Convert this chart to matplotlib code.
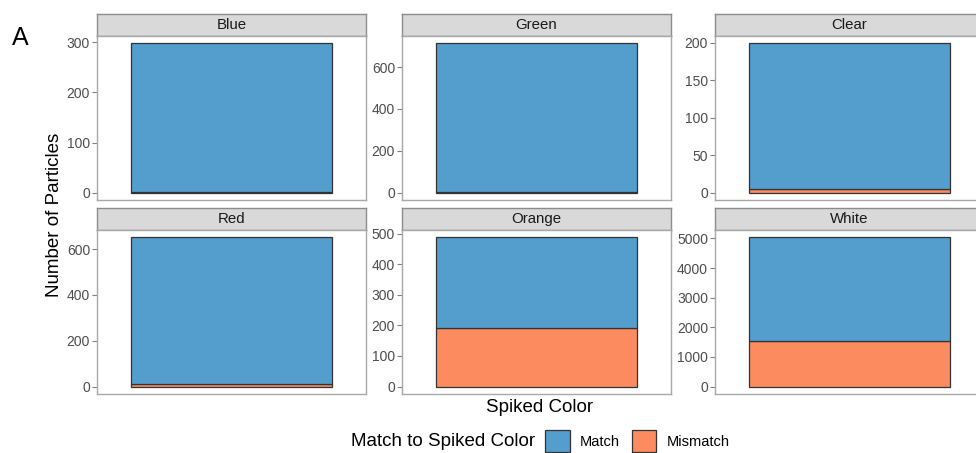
import matplotlib
matplotlib.use("Agg")
import matplotlib.pyplot as plt
from matplotlib.patches import Patch

plt.rcParams['font.family'] = ['Liberation Sans', 'DejaVu Sans']

# Particle counts per spiked colour, split by whether the detected colour matched
spiked_colors = ["Blue", "Green", "Clear", "Red", "Orange", "White"]
mismatch_counts = [1, 4, 5, 13, 193, 1545]
match_counts = [297, 709, 194, 638, 295, 3490]
y_breaks = [
    [0, 100, 200, 300],
    [0, 200, 400, 600],
    [0, 50, 100, 150, 200],
    [0, 200, 400, 600],
    [0, 100, 200, 300, 400, 500],
    [0, 1000, 2000, 3000, 4000, 5000],
]
legend_labels = ["Match", "Mismatch"]

MATCH_COLOR = "#549ECE"
MISMATCH_COLOR = "#FC8C5F"
EDGE = "#333333"
TICK_GREY = "#4D4D4D"
BORDER_GREY = "#A8A8A8"

W, H = 976, 453
fig = plt.figure(figsize=(W / 100, H / 100), dpi=100)


def px_axes(left, top, width, height):
    return fig.add_axes([left / W, 1 - (top + height) / H, width / W, height / H])


col_left = [97, 402, 715]
strip_top = [14, 208]
strip_h = 22
panel_h = 164
panel_w = 269

for i, name in enumerate(spiked_colors):
    r, c = divmod(i, 3)
    left = col_left[c]
    top = strip_top[r]

    # facet strip
    sax = px_axes(left, top, panel_w, strip_h)
    sax.set_facecolor("#D9D9D9")
    sax.set_xticks([])
    sax.set_yticks([])
    for sp in sax.spines.values():
        sp.set_color("#8C8C8C")
        sp.set_linewidth(1.0)
    sax.text(0.5, 0.5, name, ha="center", va="center", fontsize=10.8,
             color="#1A1A1A", transform=sax.transAxes)

    # panel
    ax = px_axes(left, top + strip_h, panel_w, panel_h)
    mm = mismatch_counts[i]
    ma = match_counts[i]
    ax.bar(0, mm, width=0.9, color=MISMATCH_COLOR, edgecolor=EDGE, linewidth=0.9)
    ax.bar(0, ma, bottom=mm, width=0.9, color=MATCH_COLOR, edgecolor=EDGE, linewidth=0.9)
    total = mm + ma
    ax.set_xlim(-0.6, 0.6)
    ax.set_ylim(-0.05 * total, 1.05 * total)
    ax.set_xticks([])
    ax.set_yticks(y_breaks[i])
    ax.set_yticklabels([str(v) for v in y_breaks[i]])
    ax.tick_params(axis="y", length=3.5, width=0.8, color="#808080",
                   labelcolor=TICK_GREY, labelsize=10, pad=1.5)
    for sp in ax.spines.values():
        sp.set_color(BORDER_GREY)
        sp.set_linewidth(1.0)

# axis titles
fig.text(55 / W, 1 - 215 / H, "Number of Particles", rotation=90,
         ha="center", va="center", fontsize=13.5, color="black")
fig.text(540 / W, 1 - 408 / H, "Spiked Color", ha="center", va="center",
         fontsize=13.5, color="black")

# panel tag
fig.text(12 / W, 1 - 45 / H, "A", ha="left", va="baseline", fontsize=18, color="black")

# legend
fig.text(535 / W, 1 - 441 / H, "Match to Spiked Color", ha="right", va="center",
         fontsize=13.5, color="black")
handles = [
    Patch(facecolor=MATCH_COLOR, edgecolor=EDGE, linewidth=0.9, label=legend_labels[0]),
    Patch(facecolor=MISMATCH_COLOR, edgecolor=EDGE, linewidth=0.9, label=legend_labels[1]),
]
fig.legend(handles=handles, loc="center left", bbox_to_anchor=(545 / W, 1 - 441 / H),
           ncol=2, frameon=False, fontsize=10.5, handlelength=1.7, handleheight=1.9,
           handletextpad=0.7, columnspacing=0.8, borderpad=0, borderaxespad=0)

fig.savefig("out.png", dpi=100)
